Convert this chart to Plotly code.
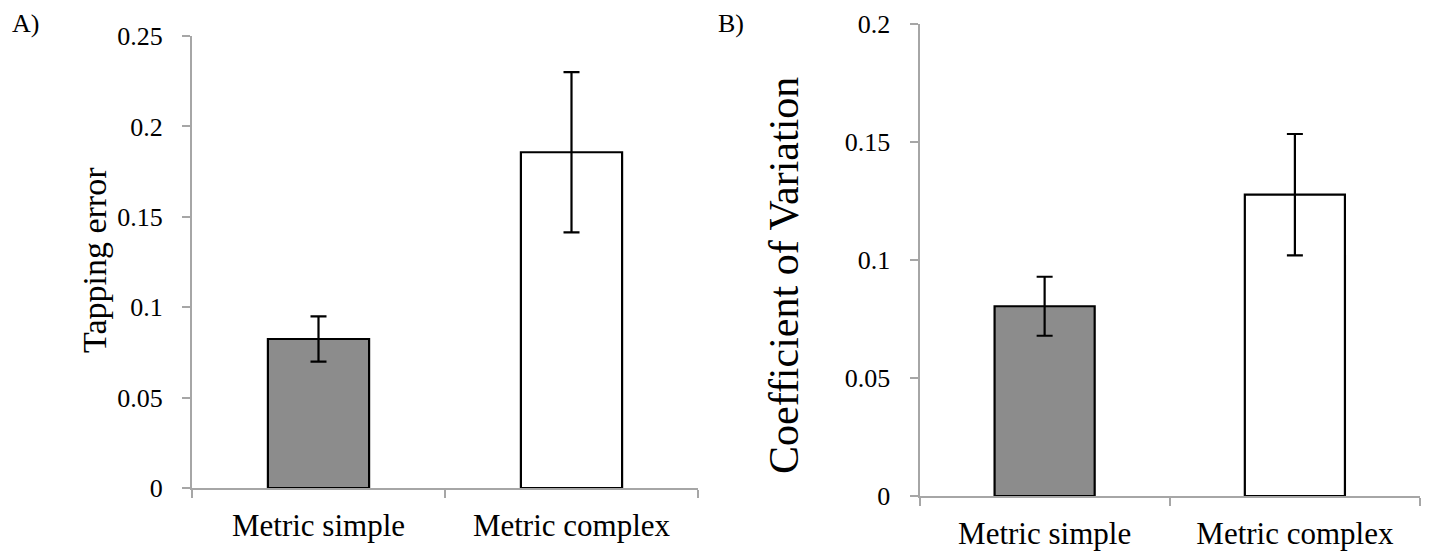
import plotly.graph_objects as go

W, H = 1429, 554

categories = ["Metric simple", "Metric complex"]

# Panel A: tapping error
tap_values = [0.0824, 0.1857]
tap_errors = [0.0125, 0.0443]

# Panel B: coefficient of variation
cv_values = [0.0804, 0.1277]
cv_errors = [0.0125, 0.0257]

bar_fill = ["#8c8c8c", "#ffffff"]
font_family = "Liberation Serif, Times New Roman, serif"
axis_gray = "#a6a6a6"

fig = go.Figure()

def add_bars(vals, errs, xaxis, yaxis):
    fig.add_trace(go.Bar(
        x=categories, y=vals,
        xaxis=xaxis, yaxis=yaxis,
        width=0.4,
        marker=dict(color=bar_fill, line=dict(color="black", width=2.2)),
        error_y=dict(type="data", array=errs, visible=True,
                     color="black", thickness=2.2, width=8),
        showlegend=False,
    ))

add_bars(tap_values, tap_errors, "x", "y")
add_bars(cv_values, cv_errors, "x2", "y2")

def px_x(p):
    return p / W

def px_y(p):
    return (H - p) / H

xa_common = dict(
    type="category", range=[-0.5, 1.5], showline=True, linecolor=axis_gray,
    linewidth=2, ticks="outside", tickson="boundaries", ticklen=8,
    tickcolor=axis_gray, tickwidth=2, showgrid=False, zeroline=False,
    tickfont=dict(family=font_family, size=31, color="black"),
    ticklabelstandoff=9, automargin=False,
)
ya_common = dict(
    showline=True, linecolor=axis_gray, linewidth=2, ticks="outside",
    ticklen=8, tickcolor=axis_gray, tickwidth=2, showgrid=False,
    zeroline=False, dtick=0.05, tick0=0,
    tickfont=dict(family=font_family, size=26, color="black"),
    ticklabelstandoff=14, automargin=False,
)

fig.update_layout(
    template="none",
    width=W, height=H,
    margin=dict(l=0, r=0, t=0, b=0),
    paper_bgcolor="white", plot_bgcolor="white",
    bargap=0.6,
    xaxis=dict(domain=[px_x(192), px_x(698)], anchor="y", **xa_common),
    yaxis=dict(domain=[px_y(488), px_y(36)], anchor="x", range=[0, 0.25], **ya_common),
    xaxis2=dict(domain=[px_x(919.5), px_x(1420)], anchor="y2", **xa_common),
    yaxis2=dict(domain=[px_y(496), px_y(24)], anchor="x2", range=[0, 0.2], **ya_common),
    annotations=[
        dict(text="A)", x=px_x(10), y=px_y(24), xref="paper", yref="paper",
             xanchor="left", yanchor="middle", showarrow=False,
             font=dict(family=font_family, size=26, color="black")),
        dict(text="B)", x=px_x(716), y=px_y(24), xref="paper", yref="paper",
             xanchor="left", yanchor="middle", showarrow=False,
             font=dict(family=font_family, size=26, color="black")),
        dict(text="Tapping error", x=px_x(94), y=px_y(260), xref="paper", yref="paper",
             xanchor="center", yanchor="middle", showarrow=False, textangle=-90,
             font=dict(family=font_family, size=34, color="black")),
        dict(text="Coefficient of Variation", x=px_x(784), y=px_y(275), xref="paper", yref="paper",
             xanchor="center", yanchor="middle", showarrow=False, textangle=-90,
             font=dict(family=font_family, size=42, color="black")),
    ],
)

fig.write_html(
    "out.html",
    config={"displayModeBar": False},
    post_script="document.body.style.margin='0';document.body.style.padding='0';"
                "document.body.style.overflow='hidden';"
                "document.documentElement.style.overflow='hidden';",
)
